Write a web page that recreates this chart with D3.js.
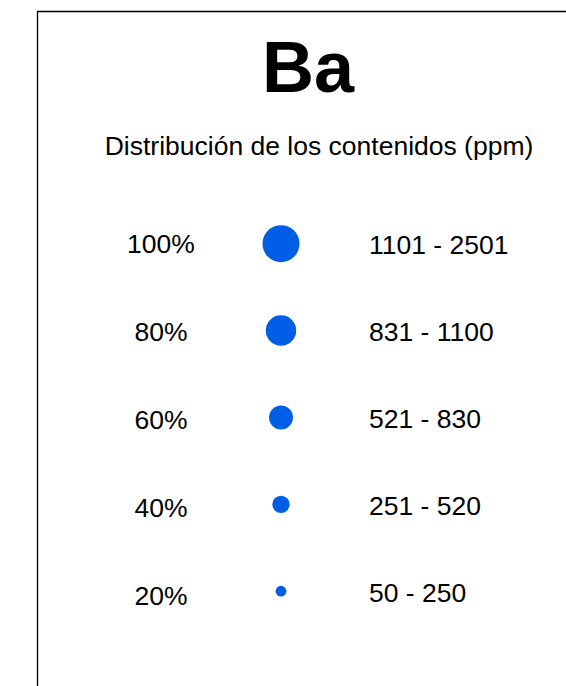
<!DOCTYPE html>
<html>
<head>
<meta charset="utf-8">
<script src="https://cdn.jsdelivr.net/npm/d3@7"></script>
<style>
  body { margin: 0; background: #fff; }
  text { font-family: "Liberation Sans", Arial, sans-serif; fill: #000; }
</style>
</head>
<body>
<div id="chart"></div>
<script>
// legend data
var element = "Ba";
var subtitle = "Distribución de los contenidos (ppm)";
var pctValues = [100, 80, 60, 40, 20];
var pctLabels = ["100%", "80%", "60%", "40%", "20%"];
var rangeLabels = ["1101 - 2501", "831 - 1100", "521 - 830", "251 - 520", "50 - 250"];

var width = 566, height = 686;

var svg = d3.select("#chart")
    .append("svg")
        .attr("width", width)
        .attr("height", height);

// frame (only top and left edges fall inside the picture)
svg.append("path")
    .attr("d", "M37.5," + height + "V11.5H" + width)
    .attr("fill", "none")
    .attr("stroke", "#000")
    .attr("stroke-width", 1.3);

svg.append("text")
    .attr("x", 308)
    .attr("y", 92)
    .attr("text-anchor", "middle")
    .style("font-size", "72px")
    .style("font-weight", "bold")
    .text(element);

svg.append("text")
    .attr("x", 319)
    .attr("y", 154.5)
    .attr("text-anchor", "middle")
    .style("font-size", "26.5px")
    .text(subtitle);

// one row per class
var rows = d3.range(pctValues.length);
var yCircle = d3.scaleLinear().domain([0, 4]).range([243.7, 591.2]);
var yLeft = d3.scaleLinear().domain([0, 4]).range([253.3, 605]);
var yRight = d3.scaleLinear().domain([0, 4]).range([254, 601.7]);
var r = d3.scaleLinear().domain([20, 100]).range([5.4, 18.5]);

svg.append("g")
    .selectAll("circle")
    .data(rows)
    .enter()
    .append("circle")
        .attr("cx", 281)
        .attr("cy", d => yCircle(d))
        .attr("r", d => r(pctValues[d]))
        .style("fill", "#005EE6");

svg.append("g")
    .selectAll("text")
    .data(rows)
    .enter()
    .append("text")
        .attr("x", 161)
        .attr("y", d => yLeft(d))
        .attr("text-anchor", "middle")
        .style("font-size", "26.5px")
        .text(d => pctLabels[d]);

svg.append("g")
    .selectAll("text")
    .data(rows)
    .enter()
    .append("text")
        .attr("x", 369)
        .attr("y", d => yRight(d))
        .style("font-size", "26.5px")
        .text(d => rangeLabels[d]);
</script>
</body>
</html>
